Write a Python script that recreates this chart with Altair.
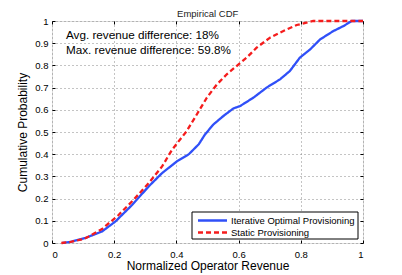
import altair as alt
import pandas as pd

iter_x = [0.033, 0.06, 0.108, 0.161, 0.204, 0.258, 0.311, 0.354, 0.402, 0.44, 0.472, 0.492, 0.519, 0.551, 0.583, 0.605, 0.648, 0.69, 0.733, 0.765, 0.797, 0.83, 0.862, 0.905, 0.937, 0.964, 1.0]
iter_y = [0.0, 0.005, 0.023, 0.052, 0.097, 0.172, 0.255, 0.315, 0.368, 0.4, 0.445, 0.489, 0.534, 0.572, 0.606, 0.617, 0.655, 0.7, 0.737, 0.775, 0.835, 0.872, 0.917, 0.955, 0.977, 1.0, 1.0]
static_x = [0.03, 0.06, 0.103, 0.161, 0.214, 0.262, 0.311, 0.354, 0.386, 0.433, 0.466, 0.498, 0.53, 0.562, 0.6, 0.626, 0.658, 0.701, 0.744, 0.787, 0.84, 1.0]
static_y = [0.0, 0.005, 0.018, 0.063, 0.126, 0.194, 0.27, 0.345, 0.42, 0.504, 0.58, 0.655, 0.714, 0.76, 0.805, 0.835, 0.88, 0.925, 0.955, 0.982, 1.0, 1.0]
series = ["Iterative Optimal Provisioning", "Static Provisioning"]
colors = ["#3050f8", "#f51c1c"]
notes = ["Avg. revenue difference: 18%", "Max. revenue difference: 59.8%"]
title_text = ["Empirical CDF"]
x_ticks = [0, 0.2, 0.4, 0.6, 0.8, 1]
y_ticks = [0, 0.1, 0.2, 0.3, 0.4, 0.5, 0.6, 0.7, 0.8, 0.9, 1]

df = pd.concat([
    pd.DataFrame({"x": iter_x, "y": iter_y, "s": series[0], "o": range(len(iter_x))}),
    pd.DataFrame({"x": static_x, "y": static_y, "s": series[1], "o": range(len(static_x))}),
])

font = "Liberation Sans"
xs = alt.Scale(domain=[0, 1], nice=False)
ys = alt.Scale(domain=[0, 1], nice=False)
common = dict(format="~g", tickSize=3, offset=-3, domain=False, tickColor="black",
              labelColor="black", labelFontSize=9.5, titleFontWeight="normal", titleColor="black")

lines = alt.Chart(df).mark_line(strokeWidth=2.3).encode(
    x=alt.X("x:Q", scale=xs,
            axis=alt.Axis(title="Normalized Operator Revenue", values=x_ticks, grid=True,
                          gridDash=[1, 3], gridColor="#888888", labelPadding=6,
                          titleFontSize=12, titlePadding=2, **common)),
    y=alt.Y("y:Q", scale=ys,
            axis=alt.Axis(title="Cumulative Probability", values=y_ticks, grid=True,
                          gridDash=[1, 3], gridColor="#888888", labelPadding=4,
                          titleFontSize=12, titlePadding=5, **common)),
    color=alt.Color("s:N", scale=alt.Scale(domain=series, range=colors), legend=None),
    strokeDash=alt.StrokeDash("s:N", scale=alt.Scale(domain=series, range=[[1, 0], [5, 3]]), legend=None),
    order="o:Q",
)

frame_axes = alt.Chart(df).mark_point(opacity=0).encode(
    x=alt.X("x:Q", scale=xs, axis=alt.Axis(orient="top", values=x_ticks, labels=False, title=None, grid=False, **common)),
    y=alt.Y("y:Q", scale=ys, axis=alt.Axis(orient="right", values=y_ticks, labels=False, title=None, grid=False, **common)),
)

text = alt.Chart(pd.DataFrame({"t": notes, "yy": [14, 28.5]})).mark_text(
    align="left", baseline="middle", fontSize=11.7, font=font, color="black"
).encode(x=alt.value(14), y=alt.Y("yy:Q", scale=None, axis=None), text="t:N")

title = alt.Chart(pd.DataFrame({"t": title_text})).mark_text(
    align="center", baseline="alphabetic", fontSize=9.5, font=font, color="#222222"
).encode(x=alt.value(155.7), y=alt.value(-4.5), text="t:N")

leg = pd.DataFrame({"s": series, "yy": [199.5, 211.5]})
leg_box = alt.Chart(pd.DataFrame({"a": [0]})).mark_rect(fill="white", stroke="black", strokeWidth=1).encode(
    x=alt.value(140), x2=alt.value(306), y=alt.value(191), y2=alt.value(218))
leg_lines = alt.Chart(leg).mark_rule(strokeWidth=2.3).encode(
    x=alt.value(146), x2=alt.value(175), y=alt.Y("yy:Q", scale=None, axis=None),
    color=alt.Color("s:N", scale=alt.Scale(domain=series, range=colors), legend=None),
    strokeDash=alt.StrokeDash("s:N", scale=alt.Scale(domain=series, range=[[1, 0], [5, 3]]), legend=None),
)
leg_text = alt.Chart(leg).mark_text(align="left", baseline="middle", fontSize=9.5, font=font, color="black").encode(
    x=alt.value(179), y=alt.Y("yy:Q", scale=None, axis=None), text="s:N")

chart = alt.layer(lines, frame_axes, text, title, leg_box, leg_lines, leg_text).resolve_axis(
    x="independent", y="independent"
).properties(
    width=311, height=222,
    padding={"left": 44, "top": 13, "right": 31, "bottom": 34},
    autosize=alt.AutoSizeParams(type="none"),
).configure_view(stroke="black", strokeWidth=1).configure(font=font)

chart.save("out.html", embed_options={"renderer": "svg", "actions": False})
